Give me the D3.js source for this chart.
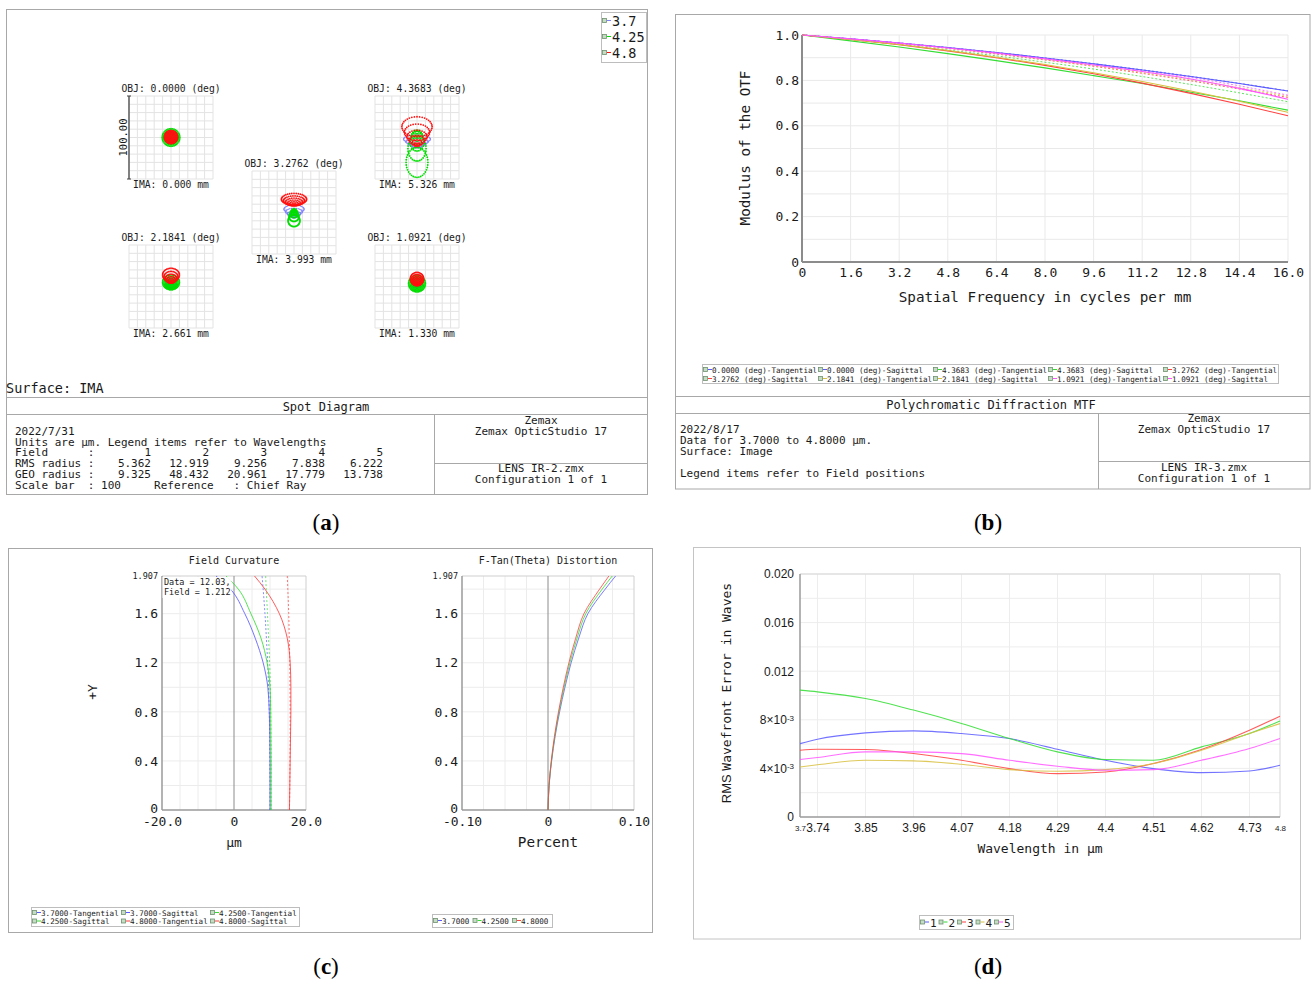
<!DOCTYPE html>
<html>
<head>
<meta charset="utf-8">
<title>IR lens imaging performance</title>
<script src="https://cdn.jsdelivr.net/npm/d3@7/dist/d3.min.js"></script>
<style>
  html,body{margin:0;padding:0;background:#fff;}
  svg{display:block;}
</style>
</head>
<body>
<svg id="fig" width="1313" height="983"></svg>
<script>
// ================= data =================
// (a) spot diagram
const spotWavelengths = ["3.7", "4.25", "4.8"];
const spotFieldAngles = ["0.0000", "1.0921", "2.1841", "3.2762", "4.3683"];
const spotImageHeights = ["0.000", "1.330", "2.661", "3.993", "5.326"];
const spotFieldNumbers = ["1", "2", "3", "4", "5"];
const spotRmsRadius = ["5.362", "12.919", "9.256", "7.838", "6.222"];
const spotGeoRadius = ["9.325", "48.432", "20.961", "17.779", "13.738"];
// ray-bundle rings in µm: [field, wavelength, centreX, centreY, comaShift, radiusX, radiusY, shiftPower]
const spotRings = [
  [0, 0, 0, 0, 0, 6, 6, 2],     [0, 1, 0, 0, 0, 10.5, 10.5, 2], [0, 2, 0, 0.5, 0, 8, 8, 2],
  [1, 0, 0, 3, 1, 6, 6, 2],     [1, 1, 0, 2, 1.5, 10, 10, 2],   [1, 2, 0, 5, 4, 8, 8, 2],
  [2, 0, 0, 2, 2, 6, 6, 2],     [2, 1, 0, 2, 3, 10, 9, 2],      [2, 2, 0, 6, 8, 10, 8, 2],
  [3, 0, 0, -6, 10, 12, 5, 2],  [3, 1, 0, 2, -12, 7, 7, 3],     [3, 2, 0, 10, 6, 15, 7, 2],
  [4, 0, 0, -12, 10, 16, 5, 2], [4, 1, 0, 2, -32, 13, 18, 4],   [4, 2, 0, -9, 22, 18, 12, 2]
];

// (b) polychromatic diffraction MTF
const mtfFreq = [0, 1.6, 3.2, 4.8, 6.4, 8.0, 9.6, 11.2, 12.8, 14.4, 16.0];
const mtfFieldNames = ["0.0000", "4.3683", "3.2762", "2.1841", "1.0921"];
const mtfTangential = [
  [1, 0.983, 0.965, 0.945, 0.923, 0.899, 0.873, 0.846, 0.817, 0.786, 0.753],
  [1, 0.974, 0.947, 0.918, 0.887, 0.855, 0.821, 0.786, 0.748, 0.710, 0.669],
  [1, 0.980, 0.957, 0.930, 0.900, 0.866, 0.829, 0.788, 0.743, 0.695, 0.644],
  [1, 0.980, 0.958, 0.932, 0.902, 0.870, 0.834, 0.795, 0.753, 0.708, 0.659],
  [1, 0.983, 0.964, 0.943, 0.920, 0.895, 0.868, 0.839, 0.806, 0.765, 0.717]
];
const mtfSagittal = [
  [1, 0.983, 0.965, 0.945, 0.923, 0.899, 0.874, 0.847, 0.818, 0.787, 0.754],
  [1, 0.980, 0.958, 0.934, 0.908, 0.880, 0.850, 0.817, 0.782, 0.745, 0.706],
  [1, 0.982, 0.963, 0.941, 0.916, 0.890, 0.862, 0.831, 0.798, 0.762, 0.725],
  [1, 0.982, 0.964, 0.942, 0.918, 0.892, 0.865, 0.835, 0.803, 0.768, 0.731],
  [1, 0.983, 0.965, 0.944, 0.922, 0.897, 0.871, 0.843, 0.813, 0.776, 0.735]
];
const mtfFreqTicks = [0, 1.6, 3.2, 4.8, 6.4, 8.0, 9.6, 11.2, 12.8, 14.4, 16.0];
const mtfModTicks = [0, 0.2, 0.4, 0.6, 0.8, 1.0];

// (c) field curvature (µm) and f-tan(theta) distortion (%) against field height
const fieldY = [0, 0.2, 0.4, 0.6, 0.8, 1.0, 1.2, 1.4, 1.6, 1.8, 1.907];
const fcWavelengths = ["3.7000", "4.2500", "4.8000"];
const fcTangential = [
  [10.0, 10.0, 10.0, 9.95, 9.8, 9.4, 8.1, 5.9, 3.0, -1.0, -5.0],
  [10.3, 10.3, 10.3, 10.25, 10.2, 10.0, 9.2, 7.5, 4.7, 1.2, -2.2],
  [15.4, 15.5, 15.6, 15.7, 15.8, 15.8, 15.6, 14.8, 12.6, 8.6, 5.7]
];
const fcSagittal = [
  [10.0, 10.0, 9.95, 9.9, 9.8, 9.6, 9.35, 9.0, 8.6, 8.1, 7.8],
  [10.3, 10.3, 10.3, 10.25, 10.2, 10.1, 9.9, 9.6, 9.3, 8.95, 8.8],
  [15.4, 15.5, 15.55, 15.6, 15.6, 15.55, 15.5, 15.35, 15.2, 14.95, 14.8]
];
const distortion = [
  [0, 0.0013, 0.0042, 0.0083, 0.0135, 0.0197, 0.0269, 0.0357, 0.0464, 0.0665, 0.0786],
  [0, 0.0012, 0.0040, 0.0079, 0.0128, 0.0187, 0.0255, 0.0338, 0.0439, 0.0630, 0.0747],
  [0, 0.0012, 0.0038, 0.0075, 0.0122, 0.0178, 0.0243, 0.0322, 0.0418, 0.0600, 0.0708]
];
const fieldTicks = [0, 0.4, 0.8, 1.2, 1.6, 1.907];

// (d) RMS wavefront error vs wavelength
const rmsWavelength = [3.7, 3.74, 3.85, 3.96, 4.07, 4.18, 4.29, 4.4, 4.51, 4.62, 4.73, 4.8];
const rmsFieldNames = ["1", "2", "3", "4", "5"];
const rmsError = [
  [0.00604, 0.00640, 0.00692, 0.00709, 0.00687, 0.00646, 0.00558, 0.00467, 0.00398, 0.00365, 0.00379, 0.00426],
  [0.01044, 0.01030, 0.00975, 0.00880, 0.00770, 0.00646, 0.00536, 0.00473, 0.00467, 0.00577, 0.00687, 0.00791],
  [0.00549, 0.00558, 0.00555, 0.00522, 0.00467, 0.00398, 0.00357, 0.00371, 0.00440, 0.00555, 0.00714, 0.00830],
  [0.00412, 0.00430, 0.00467, 0.00462, 0.00434, 0.00390, 0.00376, 0.00390, 0.00440, 0.00549, 0.00687, 0.00769],
  [0.00473, 0.00490, 0.00536, 0.00536, 0.00522, 0.00467, 0.00418, 0.00385, 0.00390, 0.00467, 0.00563, 0.00646]
];
const rmsWlTicks = [3.74, 3.85, 3.96, 4.07, 4.18, 4.29, 4.4, 4.51, 4.62, 4.73];
const rmsErrTicks = [0, 0.004, 0.008, 0.012, 0.016, 0.020];

// ================= drawing helpers =================
const svg = d3.select("#fig");
const MONO = "'DejaVu Sans Mono','Liberation Mono',monospace";
const SANS = "'Liberation Sans',Arial,sans-serif";
const fieldColors = ["#5a5aff", "#33dd33", "#ff4040", "#d8c040", "#ff55ff"];
const wlColors = ["#5a5aff", "#33dd33", "#ff4040"];
const spotColors = ["#8080ff", "#00dd00", "#ff1010"];
const spotDot = [0.7, 0.95, 0.9];

function txt(g, x, y, s, o = {}) {
  const t = g.append("text").attr("x", x).attr("y", y).text(s)
    .attr("text-anchor", o.anchor || "start")
    .attr("xml:space", "preserve")
    .style("white-space", "pre")
    .style("font-family", o.font || MONO)
    .style("font-size", (o.size || 11) + "px")
    .style("fill", o.fill || "#1a1a1a");
  if (o.rotate) t.attr("transform", `rotate(${o.rotate},${x},${y})`);
  return t;
}
function seg(g, x1, y1, x2, y2, stroke = "#a8a8a8", w = 1) {
  return g.append("line").attr("x1", x1).attr("y1", y1).attr("x2", x2).attr("y2", y2)
    .attr("stroke", stroke).attr("stroke-width", w);
}
function box(g, x, y, w, h, stroke = "#a8a8a8") {
  return g.append("rect").attr("x", x).attr("y", y).attr("width", w).attr("height", h)
    .attr("fill", "none").attr("stroke", stroke);
}
function legendMark(g, x, y, color) {
  g.append("rect").attr("x", x + 0.5).attr("y", y - 2.5).attr("width", 4).attr("height", 4)
    .attr("fill", "#c4dcc4").attr("stroke", "#6f8f6f").attr("stroke-width", 0.8);
  seg(g, x + 5, y - 0.5, x + 9, y - 0.5, color, 1);
}
function grid(g, xs, ys, xv, yv, color = "#ebebeb") {
  xv.forEach(v => seg(g, xs(v), ys.range()[0], xs(v), ys.range()[1], color, 1));
  yv.forEach(v => seg(g, xs.range()[0], ys(v), xs.range()[1], ys(v), color, 1));
}
function labelAxis(g, axis, transform, font, size) {
  const a = g.append("g").attr("transform", transform).call(axis);
  a.select(".domain").remove();
  a.selectAll(".tick line").remove();
  a.selectAll("text").attr("font-family", null).attr("font-size", null)
    .style("font-family", font).style("font-size", size + "px").style("fill", "#1a1a1a");
  return a;
}
function panelLabel(x, y, letter) {
  const t = svg.append("text").attr("x", x).attr("y", y).attr("text-anchor", "middle")
    .style("font-family", "'Liberation Serif','DejaVu Serif',serif").style("font-size", "23px").style("fill", "#000");
  t.append("tspan").text("(");
  t.append("tspan").style("font-weight", "bold").text(letter);
  t.append("tspan").text(")");
}
const fmtPlain = d => d === 0 ? "0" : d.toFixed(1);

// ================= (a) spot diagram =================
const A = svg.append("g");
box(A, 6.5, 9.5, 641, 485);

// wavelength legend
box(A, 601.5, 12.5, 45, 50, "#bdbdbd");
spotWavelengths.forEach((w, i) => {
  const y = 21 + i * 16;
  legendMark(A, 602, y, spotColors[i]);
  txt(A, 612, y + 5, w, { size: 13.5 });
});

const cellCorner = [[129, 96], [375, 245], [129, 245], [252, 171], [375, 96]];
const CW = 84, CH = 83;
cellCorner.forEach((c, fi) => {
  const sx = d3.scaleLinear().domain([-50, 50]).range([c[0], c[0] + CW]);
  const sy = d3.scaleLinear().domain([-50, 50]).range([c[1] + CH, c[1]]);
  const cell = A.append("g");
  grid(cell, sx, sy, sx.ticks(10), sy.ticks(10), "#e3e3e3");
  txt(cell, c[0] + CW / 2, c[1] - 4, `OBJ: ${spotFieldAngles[fi]} (deg)`, { anchor: "middle", size: 9.7 });
  txt(cell, c[0] + CW / 2, c[1] + CH + 9, `IMA: ${spotImageHeights[fi]} mm`, { anchor: "middle", size: 9.7 });
  // rays, hexapolar sampling of each wavelength bundle
  [0, 1, 2].forEach(wi => {
    spotRings.filter(r => r[0] === fi && r[1] === wi).forEach(r => {
      const [, , cx, cy, shift, rx, ry, pw] = r;
      const pts = [];
      const rings = 6;
      for (let k = 0; k <= rings; k++) {
        const rho = k / rings;
        const n = k === 0 ? 1 : 6 * k;
        for (let j = 0; j < n; j++) {
          const a = 2 * Math.PI * j / n;
          pts.push([cx + rx * rho * Math.cos(a), cy + shift * Math.pow(rho, pw) + ry * rho * Math.sin(a)]);
        }
      }
      cell.selectAll(null).data(pts).enter().append("circle")
        .attr("cx", d => sx(d[0])).attr("cy", d => sy(d[1])).attr("r", spotDot[wi])
        .attr("fill", spotColors[wi]);
    });
  });
  if (fi === 0) {
    seg(cell, c[0], c[1], c[0], c[1] + CH, "#444", 1.3);
    seg(cell, c[0] - 2, c[1], c[0] + 2, c[1], "#444", 1);
    seg(cell, c[0] - 2, c[1] + CH, c[0] + 2, c[1] + CH, "#444", 1);
    txt(cell, c[0] - 2, c[1] + CH / 2, "100.00", { anchor: "middle", size: 10.5, rotate: -90 });
  }
});

txt(A, 6, 393, "Surface: IMA", { size: 13.5 });
seg(A, 6, 397.5, 647, 397.5);
txt(A, 326, 411, "Spot Diagram", { anchor: "middle", size: 12 });
seg(A, 6, 414.5, 647, 414.5);
seg(A, 434.5, 414.5, 434.5, 494);
seg(A, 434.5, 463.5, 647, 463.5);
txt(A, 15, 435, "2022/7/31", { size: 11 });
txt(A, 15, 445.5, "Units are µm. Legend items refer to Wavelengths", { size: 11 });
txt(A, 15, 456, "Field      :", { size: 11 });
txt(A, 15, 467, "RMS radius :", { size: 11 });
txt(A, 15, 478, "GEO radius :", { size: 11 });
txt(A, 15, 489, "Scale bar  : 100     Reference   : Chief Ray", { size: 11 });
const colRight = [151, 209, 267, 325, 383];
colRight.forEach((x, i) => {
  txt(A, x, 456, spotFieldNumbers[i], { anchor: "end", size: 11 });
  txt(A, x, 467, spotRmsRadius[i], { anchor: "end", size: 11 });
  txt(A, x, 478, spotGeoRadius[i], { anchor: "end", size: 11 });
});
txt(A, 541, 424, "Zemax", { anchor: "middle", size: 11 });
txt(A, 541, 435, "Zemax OpticStudio 17", { anchor: "middle", size: 11 });
txt(A, 541, 472, "LENS IR-2.zmx", { anchor: "middle", size: 11 });
txt(A, 541, 483, "Configuration 1 of 1", { anchor: "middle", size: 11 });

// ================= (b) MTF =================
const B = svg.append("g");
box(B, 675.5, 14.5, 634.5, 474.5);
const mx = d3.scaleLinear().domain([0, 16]).range([802, 1288]);
const my = d3.scaleLinear().domain([0, 1]).range([262, 35]);
grid(B, mx, my, mtfFreqTicks, d3.range(0, 1.001, 0.1), "#e9e9e9");
seg(B, mx(0), my(0), mx(0), my(1), "#8c8c8c", 2);
seg(B, mx(0), my(0), mx(16), my(0), "#8c8c8c", 2);
const mtfLine = d3.line().x((d, i) => mx(mtfFreq[i])).y(d => my(d)).curve(d3.curveMonotoneX);
[0, 1, 2, 3, 4].forEach(i => {
  B.append("path").attr("d", mtfLine(mtfSagittal[i])).attr("fill", "none")
    .attr("stroke", fieldColors[i]).attr("stroke-width", 1).attr("stroke-dasharray", "2,2").attr("opacity", 0.8);
});
[0, 1, 2, 3, 4].forEach(i => {
  B.append("path").attr("d", mtfLine(mtfTangential[i])).attr("fill", "none")
    .attr("stroke", fieldColors[i]).attr("stroke-width", 1.1);
});
labelAxis(B, d3.axisLeft(my).tickValues(mtfModTicks).tickFormat(fmtPlain).tickSize(0).tickPadding(3),
  `translate(${mx(0)},0)`, MONO, 13);
labelAxis(B, d3.axisBottom(mx).tickValues(mtfFreqTicks).tickFormat(fmtPlain).tickSize(0).tickPadding(6),
  `translate(0,${my(0)})`, MONO, 13);
txt(B, 1045, 302, "Spatial Frequency in cycles per mm", { anchor: "middle", size: 14.3 });
txt(B, 750, 148, "Modulus of the OTF", { anchor: "middle", size: 14.3, rotate: -90 });

// legend
box(B, 702.5, 364.5, 576, 19, "#bdbdbd");
mtfFieldNames.forEach((f, i) => {
  ["Tangential", "Sagittal"].forEach((kind, k) => {
    const idx = i * 2 + k;
    const row = Math.floor(idx / 5), col = idx % 5;
    const x = 703 + col * 115, y = 370 + row * 9;
    legendMark(B, x, y, fieldColors[i]);
    txt(B, x + 9, y + 2.7, `${f} (deg)-${kind}`, { size: 7.6 });
  });
});

seg(B, 675.5, 396.5, 1310, 396.5);
txt(B, 991, 409, "Polychromatic Diffraction MTF", { anchor: "middle", size: 12 });
seg(B, 675.5, 413.5, 1310, 413.5);
seg(B, 1098.5, 413.5, 1098.5, 489);
seg(B, 1098.5, 461.5, 1310, 461.5);
txt(B, 680, 433, "2022/8/17", { size: 11 });
txt(B, 680, 444, "Data for 3.7000 to 4.8000 µm.", { size: 11 });
txt(B, 680, 455, "Surface: Image", { size: 11 });
txt(B, 680, 477, "Legend items refer to Field positions", { size: 11 });
txt(B, 1204, 422, "Zemax", { anchor: "middle", size: 11 });
txt(B, 1204, 433, "Zemax OpticStudio 17", { anchor: "middle", size: 11 });
txt(B, 1204, 471, "LENS IR-3.zmx", { anchor: "middle", size: 11 });
txt(B, 1204, 482, "Configuration 1 of 1", { anchor: "middle", size: 11 });

// ================= (c) field curvature / distortion =================
const Cg = svg.append("g");
box(Cg, 8.5, 548.5, 644, 384);

function fieldPlot(g, xs, title, xTicks, xFmt, xGrid, xTitle, xTitleSize) {
  const ys = d3.scaleLinear().domain([0, 1.907]).range([810, 576]);
  grid(g, xs, ys, xGrid, d3.range(0.2, 1.9, 0.2), "#ececec");
  seg(g, xs.range()[0], ys(1.907), xs.range()[1], ys(1.907), "#cfcfcf", 1);
  seg(g, xs.range()[1], ys(0), xs.range()[1], ys(1.907), "#cfcfcf", 1);
  seg(g, xs(0), ys(0), xs(0), ys(1.907), "#8c8c8c", 1);
  seg(g, xs.range()[0], ys(0), xs.range()[0], ys(1.907), "#9a9a9a", 1.5);
  seg(g, xs.range()[0], ys(0), xs.range()[1], ys(0), "#9a9a9a", 1.5);
  txt(g, (xs.range()[0] + xs.range()[1]) / 2, 564, title, { anchor: "middle", size: 10 });
  const ya = labelAxis(g, d3.axisLeft(ys).tickValues(fieldTicks)
      .tickFormat(d => d === 0 ? "0" : (d === 1.907 ? "1.907" : d.toFixed(1))).tickSize(0).tickPadding(4),
    `translate(${xs.range()[0]},0)`, MONO, 13);
  ya.selectAll("text").filter(d => d === 1.907).style("font-size", "8.5px");
  ya.selectAll("text").filter(d => d === 0).attr("dy", "0.2em");
  labelAxis(g, d3.axisBottom(xs).tickValues(xTicks).tickFormat(xFmt).tickSize(0).tickPadding(7),
    `translate(0,${ys(0)})`, MONO, 13);
  txt(g, xs(0), 847, xTitle, { anchor: "middle", size: xTitleSize });
  return ys;
}

const fx = d3.scaleLinear().domain([-20, 20]).range([162, 306]);
const fy = fieldPlot(Cg, fx, "Field Curvature", [-20, 0, 20], d => d === 0 ? "0" : (d < 0 ? "-" : "") + Math.abs(d).toFixed(1),
  [-15, -10, -5, 5, 10, 15], "µm", 13);
const fcLine = d3.line().x(d => fx(d)).y((d, i) => fy(fieldY[i])).curve(d3.curveMonotoneY);
[0, 1, 2].forEach(i => {
  Cg.append("path").attr("d", fcLine(fcSagittal[i])).attr("fill", "none")
    .attr("stroke", wlColors[i]).attr("stroke-width", 1).attr("stroke-dasharray", "2,2").attr("opacity", 0.7);
  Cg.append("path").attr("d", fcLine(fcTangential[i])).attr("fill", "none")
    .attr("stroke", wlColors[i]).attr("stroke-width", 1).attr("opacity", 0.85);
});
Cg.append("rect").attr("x", 162.5).attr("y", 577).attr("width", 69).attr("height", 21).attr("fill", "#fff").attr("opacity", 0.9);
txt(Cg, 164, 585, "Data = 12.03,", { size: 8.5 });
txt(Cg, 164, 595, "Field = 1.212", { size: 8.5 });
txt(Cg, 97, 692, "+Y", { anchor: "middle", size: 13, rotate: -90 });

const dx = d3.scaleLinear().domain([-0.1, 0.1]).range([462, 634]);
const dy = fieldPlot(Cg, dx, "F-Tan(Theta) Distortion", [-0.1, 0, 0.1], d => d === 0 ? "0" : (d < 0 ? "-" : "") + Math.abs(d).toFixed(2),
  [-0.075, -0.05, -0.025, 0.025, 0.05, 0.075], "Percent", 14.3);
const dLine = d3.line().x(d => dx(d)).y((d, i) => dy(fieldY[i])).curve(d3.curveMonotoneY);
[0, 1, 2].forEach(i => {
  Cg.append("path").attr("d", dLine(distortion[i])).attr("fill", "none")
    .attr("stroke", wlColors[i]).attr("stroke-width", 1).attr("opacity", 0.8);
});

// legends
box(Cg, 31.5, 907.5, 268, 19, "#bdbdbd");
fcWavelengths.forEach((w, i) => {
  ["Tangential", "Sagittal"].forEach((kind, k) => {
    const idx = i * 2 + k;
    const row = Math.floor(idx / 3), col = idx % 3;
    const x = 32 + col * 89, y = 913 + row * 8.5;
    legendMark(Cg, x, y, wlColors[i]);
    txt(Cg, x + 9, y + 2.7, `${w}-${kind}`, { size: 7.6 });
  });
});
box(Cg, 432.5, 914.5, 120, 13, "#bdbdbd");
fcWavelengths.forEach((w, i) => {
  const x = 433 + i * 39.5, y = 921;
  legendMark(Cg, x, y, wlColors[i]);
  txt(Cg, x + 9, y + 2.7, w, { size: 7.6 });
});

// ================= (d) RMS wavefront error =================
const D = svg.append("g");
box(D, 693.5, 547.5, 607, 391.5, "#c4c4c4");
const rx = d3.scaleLinear().domain([3.7, 4.8]).range([800, 1280]);
const ry = d3.scaleLinear().domain([0, 0.02]).range([817, 574]);
grid(D, rx, ry, rmsWlTicks, d3.range(0.002, 0.0201, 0.002), "#ededed");
seg(D, rx(4.8), ry(0), rx(4.8), ry(0.02), "#d6d6d6", 1);
seg(D, rx(3.7), ry(0.02), rx(4.8), ry(0.02), "#d6d6d6", 1);
seg(D, rx(3.7), ry(0), rx(3.7), ry(0.02), "#9a9a9a", 1.5);
seg(D, rx(3.7), ry(0), rx(4.8), ry(0), "#9a9a9a", 1.5);
const rmsLine = d3.line().x((d, i) => rx(rmsWavelength[i])).y(d => ry(d)).curve(d3.curveMonotoneX);
[0, 1, 2, 3, 4].forEach(i => {
  D.append("path").attr("d", rmsLine(rmsError[i])).attr("fill", "none")
    .attr("stroke", fieldColors[i]).attr("stroke-width", 1.1).attr("opacity", 0.85);
});
const ryAxis = labelAxis(D, d3.axisLeft(ry).tickValues(rmsErrTicks)
    .tickFormat(d => d === 0 ? "0" : (d < 0.01 ? "" : d.toFixed(3))).tickSize(0).tickPadding(6),
  `translate(${rx(3.7)},0)`, SANS, 12);
ryAxis.selectAll("text").filter(d => d > 0 && d < 0.01).each(function (d) {
  const t = d3.select(this);
  t.text(null);
  t.append("tspan").text(`${Math.round(d * 1000)}×10`);
  t.append("tspan").attr("dy", "-0.45em").style("font-size", "8px").text("-3");
});
labelAxis(D, d3.axisBottom(rx).tickValues(rmsWlTicks).tickFormat(d3.format("~g")).tickSize(0).tickPadding(6),
  `translate(0,${ry(0)})`, SANS, 12);
labelAxis(D, d3.axisBottom(rx).tickValues([3.7, 4.8]).tickFormat(d3.format("~g")).tickSize(0).tickPadding(8),
  `translate(0,${ry(0)})`, SANS, 8);
const yt = txt(D, 731, 693, "", { anchor: "middle", size: 13, rotate: -90 });
yt.append("tspan").style("font-family", SANS).text("RMS ");
yt.append("tspan").text("Wavefront Error in Waves");
txt(D, 1040, 853, "Wavelength in µm", { anchor: "middle", size: 13 });
box(D, 919.5, 915.5, 94, 14, "#bdbdbd");
rmsFieldNames.forEach((f, i) => {
  const x = 920 + i * 18.5, y = 922.5;
  legendMark(D, x, y, fieldColors[i]);
  txt(D, x + 10, y + 4, f, { size: 11 });
});

// ================= panel letters =================
panelLabel(326, 530, "a");
panelLabel(988, 530, "b");
panelLabel(326, 974, "c");
panelLabel(988, 974, "d");
</script>
</body>
</html>
